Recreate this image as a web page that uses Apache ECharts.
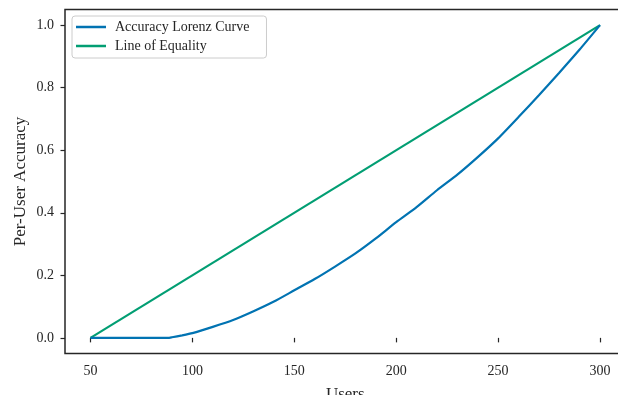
<!DOCTYPE html>
<html>
<head>
<meta charset="utf-8">
<script src="https://cdn.jsdelivr.net/npm/echarts@6/dist/echarts.min.js"></script>
<style>
html,body{margin:0;padding:0;background:#fff;}
#chart{width:618px;height:395px;}
</style>
</head>
<body>
<div id="chart"></div>
<script>
// ---- data ----
const users = [50, 88, 90, 95, 100, 110, 120, 130, 140, 150, 160, 170, 180, 190, 200, 210, 220, 230, 240, 250, 260, 270, 280, 290, 300];
const lorenzAccuracy = [0, 0, 0.002, 0.008, 0.015, 0.035, 0.057, 0.085, 0.116, 0.152, 0.188, 0.228, 0.27, 0.318, 0.37, 0.418, 0.472, 0.522, 0.578, 0.638, 0.706, 0.776, 0.848, 0.922, 1.0];
const equalityUsers = [50, 300];
const equalityValues = [0, 1];
const xTicks = [50, 100, 150, 200, 250, 300];
const yTicks = [0, 0.2, 0.4, 0.6, 0.8, 1.0];
const seriesNames = ['Accuracy Lorenz Curve', 'Line of Equality'];
const xName = 'Users';
const yName = 'Per-User Accuracy';

const FONT = 'Liberation Serif';
const TXT = '#262626';

const chart = echarts.init(document.getElementById('chart'), null, {renderer: 'canvas'});
chart.setOption({
  backgroundColor: '#ffffff',
  animation: false,
  grid: {
    left: 65, top: 9.5, bottom: 41.5, right: -7.5,
    containLabel: false, outerBoundsMode: 'none',
    show: true, borderColor: '#262626', borderWidth: 1.5, backgroundColor: 'transparent'
  },
  legend: {
    orient: 'vertical', left: 72, top: 16,
    data: seriesNames.map(n => ({name: n, icon: 'rect'})),
    itemWidth: 30, itemHeight: 2.5, itemGap: 5,
    padding: [4, 17, 5, 4],
    borderColor: '#cccccc', borderWidth: 1, borderRadius: 3,
    backgroundColor: 'rgba(255,255,255,0.8)',
    textStyle: {fontFamily: FONT, fontSize: 14, color: TXT, lineHeight: 14, padding: [0, 0, 0, 4]}
  },
  xAxis: {
    type: 'value', min: 37.5, max: 312.5,
    name: xName, nameLocation: 'middle', nameGap: 33, nameMoveOverlap: false,
    nameTextStyle: {fontFamily: FONT, fontSize: 17, color: TXT},
    axisLine: {show: false},
    axisTick: {show: true, inside: false, length: 4.5, customValues: xTicks, lineStyle: {color: '#262626', width: 1.2}},
    axisLabel: {customValues: xTicks, margin: 11, fontFamily: FONT, fontSize: 14, color: TXT, formatter: v => String(v)},
    splitLine: {show: false}
  },
  yAxis: {
    type: 'value', min: -0.05, max: 1.05,
    name: yName, nameLocation: 'middle', nameGap: 36, nameRotate: 90, nameMoveOverlap: false,
    nameTextStyle: {fontFamily: FONT, fontSize: 17, color: TXT},
    axisLine: {show: false},
    axisTick: {show: true, inside: false, length: 4.5, customValues: yTicks, lineStyle: {color: '#262626', width: 1.2}},
    axisLabel: {customValues: yTicks, margin: 11, fontFamily: FONT, fontSize: 14, color: TXT, formatter: v => v.toFixed(1)},
    splitLine: {show: false}
  },
  series: [
    {
      name: seriesNames[0], type: 'line',
      data: users.map((u, i) => [u, lorenzAccuracy[i]]),
      showSymbol: false, symbol: 'none', smooth: 0.2,
      lineStyle: {color: '#0173b2', width: 2.2}, itemStyle: {color: '#0173b2'}, z: 3
    },
    {
      name: seriesNames[1], type: 'line',
      data: equalityUsers.map((u, i) => [u, equalityValues[i]]),
      showSymbol: false, symbol: 'none',
      lineStyle: {color: '#029e73', width: 2.2}, itemStyle: {color: '#029e73'}, z: 2
    }
  ]
});
</script>
</body>
</html>
